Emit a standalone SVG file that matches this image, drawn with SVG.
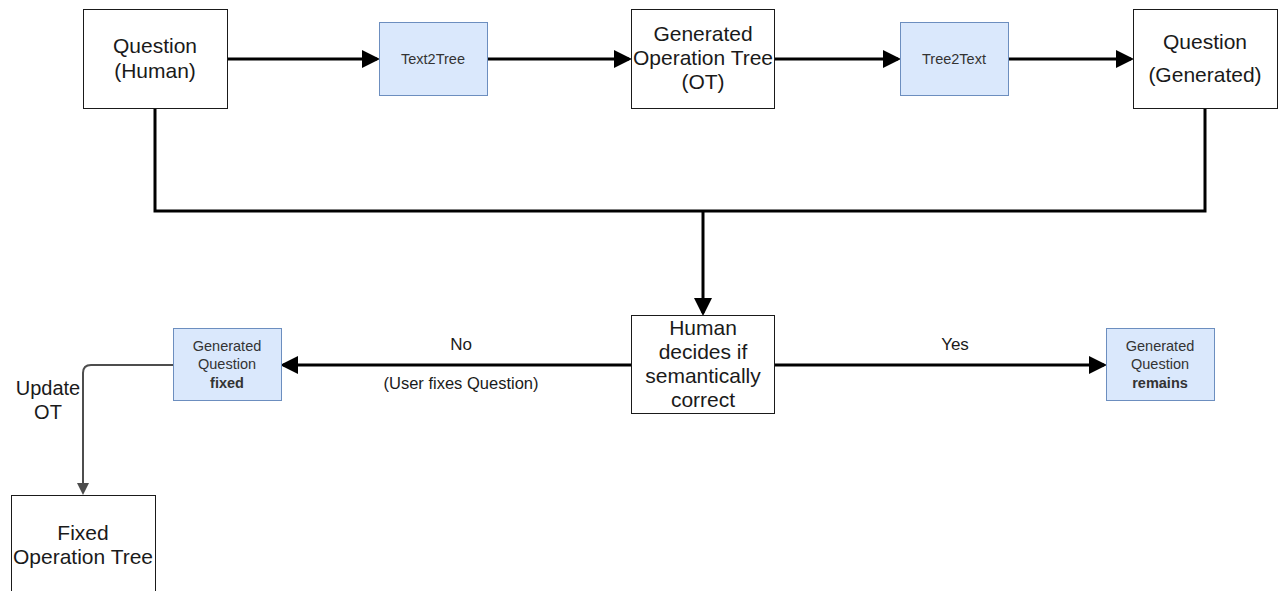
<svg xmlns="http://www.w3.org/2000/svg" width="1279" height="591" viewBox="0 0 1279 591">
  <style>
    .box { fill: #ffffff; stroke: #1a1a1a; stroke-width: 1; }
    .step { fill: #dae8fc; stroke: #6c8ebf; stroke-width: 1; }
    .big { font-family: "Liberation Sans", Arial, sans-serif; font-size: 21px; fill: #1a1a1a; text-anchor: middle; }
    .small { font-family: "Liberation Sans", Arial, sans-serif; font-size: 14.5px; fill: #333333; text-anchor: middle; }
    .lbl { font-family: "Liberation Sans", Arial, sans-serif; font-size: 16.5px; fill: #1a1a1a; text-anchor: middle; }
    .flow { fill: none; stroke: #000000; stroke-width: 3; }
    .thin { fill: none; stroke: #4d4d4d; stroke-width: 2; }
  </style>
  <defs>
    <marker id="arrow" markerWidth="6" markerHeight="6" refX="5" refY="3" orient="auto" markerUnits="strokeWidth">
      <path d="M0,0 L6,3 L0,6 Z" fill="#000000"/>
    </marker>
    <marker id="arrowThin" markerWidth="6" markerHeight="6" refX="5" refY="3" orient="auto" markerUnits="strokeWidth">
      <path d="M0,0 L6,3 L0,6 Z" fill="#4d4d4d"/>
    </marker>
  </defs>
  <rect width="1279" height="591" fill="#ffffff"/>

  <!-- connectors -->
  <g id="connectors">
    <line class="flow" x1="227" y1="59" x2="377" y2="59" marker-end="url(#arrow)"/>
    <line class="flow" x1="487" y1="59" x2="629" y2="59" marker-end="url(#arrow)"/>
    <line class="flow" x1="774" y1="59" x2="898" y2="59" marker-end="url(#arrow)"/>
    <line class="flow" x1="1008" y1="59" x2="1131" y2="59" marker-end="url(#arrow)"/>
    <path class="flow" d="M155,108 V211 H1205 V108"/>
    <line class="flow" x1="703" y1="211" x2="703" y2="313" marker-end="url(#arrow)"/>
    <line class="flow" x1="631" y1="365" x2="283" y2="365" marker-end="url(#arrow)"/>
    <line class="flow" x1="774" y1="365" x2="1104" y2="365" marker-end="url(#arrow)"/>
    <path class="thin" d="M173,365 H91 Q83,365 83,373 V493" marker-end="url(#arrowThin)"/>
    <text class="lbl" x="461" y="350" style="font-size:17px">No</text>
    <text class="lbl" x="461" y="389">(User fixes Question)</text>
    <text class="lbl" x="955" y="350" style="font-size:17px">Yes</text>
    <text class="big" x="48" y="395" style="font-size:20px">Update</text>
    <text class="big" x="48" y="419" style="font-size:20px">OT</text>
  </g>

  <g id="question-human">
    <rect class="box" x="83.5" y="9.5" width="144" height="99"/>
    <text class="big" x="155" y="53">Question</text>
    <text class="big" x="155" y="78">(Human)</text>
  </g>

  <g id="text2tree">
    <rect class="step" x="379.5" y="22.5" width="108" height="73"/>
    <text class="small" x="433" y="64">Text2Tree</text>
  </g>

  <g id="generated-ot">
    <rect class="box" x="631.5" y="9.5" width="143" height="99"/>
    <text class="big" x="703" y="41">Generated</text>
    <text class="big" x="703" y="65">Operation Tree</text>
    <text class="big" x="703" y="89">(OT)</text>
  </g>

  <g id="tree2text">
    <rect class="step" x="900.5" y="22.5" width="108" height="73"/>
    <text class="small" x="954" y="64">Tree2Text</text>
  </g>

  <g id="question-generated">
    <rect class="box" x="1133.5" y="9.5" width="144" height="99"/>
    <text class="big" x="1205" y="49">Question</text>
    <text class="big" x="1205" y="82">(Generated)</text>
  </g>

  <g id="human-decides">
    <rect class="box" x="631.5" y="315.5" width="143" height="98"/>
    <text class="big" x="703" y="335">Human</text>
    <text class="big" x="703" y="359">decides if</text>
    <text class="big" x="703" y="383">semantically</text>
    <text class="big" x="703" y="407">correct</text>
  </g>

  <g id="question-fixed">
    <rect class="step" x="173.5" y="328.5" width="108" height="72"/>
    <text class="small" x="227" y="351">Generated</text>
    <text class="small" x="227" y="369">Question</text>
    <text class="small" x="227" y="388" font-weight="bold" fill="#1a1a1a">fixed</text>
  </g>

  <g id="question-remains">
    <rect class="step" x="1106.5" y="328.5" width="108" height="72"/>
    <text class="small" x="1160" y="351">Generated</text>
    <text class="small" x="1160" y="369">Question</text>
    <text class="small" x="1160" y="388" font-weight="bold" fill="#1a1a1a">remains</text>
  </g>

  <g id="fixed-ot">
    <rect class="box" x="11.5" y="495.5" width="144" height="110"/>
    <text class="big" x="83" y="540">Fixed</text>
    <text class="big" x="83" y="564">Operation Tree</text>
  </g>
</svg>
